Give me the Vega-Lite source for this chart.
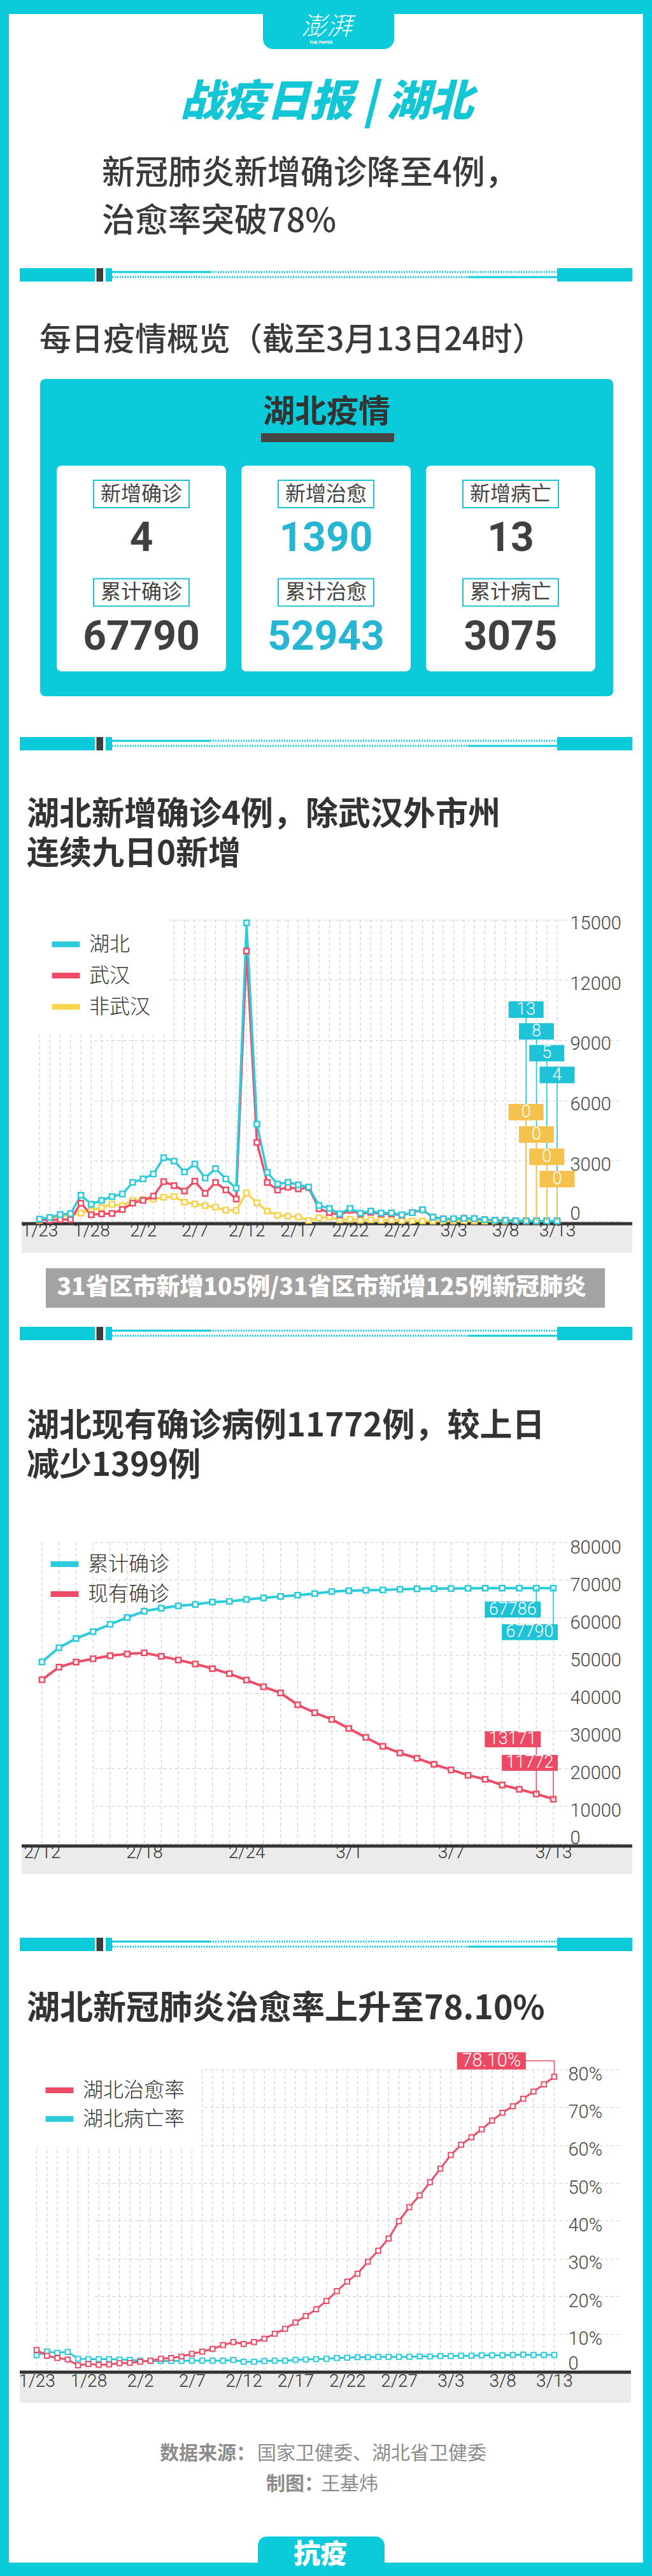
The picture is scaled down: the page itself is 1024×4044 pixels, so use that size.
{
"$schema":"https://vega.github.io/schema/vega-lite/v6.json",
"background":"#0BCAD9",
"padding":{"left":14,"right":14,"top":22,"bottom":0},
"spacing":0,
"bounds":"flush",
"resolve":{"scale":{"color":"independent","x":"independent","y":"independent"},"legend":{"color":"independent"},"axis":{"x":"independent","y":"independent"}},
"config":{
 "view":{"stroke":null,"fill":"white"},
 "font":"Noto Sans CJK SC",
 "axis":{"domain":false,"ticks":false,"grid":true,"gridDash":[5,4],"gridColor":"#cfcfcf","gridWidth":1.2,"labelFont":"Roboto","labelFontWeight":300,"labelColor":"#333333","labelFontSize":28,"labelFlush":false},
 "legend":{"orient":"none","direction":"vertical","symbolType":"stroke","symbolSize":1936,"symbolStrokeWidth":9,"labelFont":"Noto Sans CJK SC","labelFontSize":32,"labelFontWeight":300,"labelColor":"#333333","labelOffset":10,"padding":25,"fillColor":"white","labelLimit":400}
},
"datasets":{
 "stats":[
  {"col":"确诊","row":"新增","label":"新增确诊","value":4},
  {"col":"治愈","row":"新增","label":"新增治愈","value":1390},
  {"col":"病亡","row":"新增","label":"新增病亡","value":13},
  {"col":"确诊","row":"累计","label":"累计确诊","value":67790},
  {"col":"治愈","row":"累计","label":"累计治愈","value":52943},
  {"col":"病亡","row":"累计","label":"累计病亡","value":3075}
 ],
 "c1":[
  {"date":"1/23","湖北":105,"武汉":70,"非武汉":35},
  {"date":"1/24","湖北":180,"武汉":46,"非武汉":134},
  {"date":"1/25","湖北":323,"武汉":80,"非武汉":243},
  {"date":"1/26","湖北":371,"武汉":80,"非武汉":291},
  {"date":"1/27","湖北":1291,"武汉":892,"非武汉":399},
  {"date":"1/28","湖北":840,"武汉":315,"非武汉":525},
  {"date":"1/29","湖北":1032,"武汉":356,"非武汉":676},
  {"date":"1/30","湖北":1220,"武汉":378,"非武汉":842},
  {"date":"1/31","湖北":1347,"武汉":576,"非武汉":771},
  {"date":"2/1","湖北":1921,"武汉":894,"非武汉":1027},
  {"date":"2/2","湖北":2103,"武汉":1033,"非武汉":1070},
  {"date":"2/3","湖北":2345,"武汉":1242,"非武汉":1103},
  {"date":"2/4","湖北":3156,"武汉":1967,"非武汉":1189},
  {"date":"2/5","湖北":2987,"武汉":1766,"非武汉":1221},
  {"date":"2/6","湖北":2447,"武汉":1501,"非武汉":946},
  {"date":"2/7","湖北":2841,"武汉":1985,"非武汉":856},
  {"date":"2/8","湖北":2147,"武汉":1379,"非武汉":768},
  {"date":"2/9","湖北":2618,"武汉":1921,"非武汉":697},
  {"date":"2/10","湖北":2097,"武汉":1552,"非武汉":545},
  {"date":"2/11","湖北":1638,"武汉":1104,"非武汉":534},
  {"date":"2/12","湖北":14840,"武汉":13436,"非武汉":1404},
  {"date":"2/13","湖北":4823,"武汉":3910,"非武汉":913},
  {"date":"2/14","湖北":2420,"武汉":1923,"非武汉":497},
  {"date":"2/15","湖北":1843,"武汉":1548,"非武汉":295},
  {"date":"2/16","湖北":1933,"武汉":1690,"非武汉":243},
  {"date":"2/17","湖北":1807,"武汉":1600,"非武汉":207},
  {"date":"2/18","湖北":1693,"武汉":1660,"非武汉":33},
  {"date":"2/19","湖北":775,"武汉":615,"非武汉":160},
  {"date":"2/20","湖北":631,"武汉":431,"非武汉":200},
  {"date":"2/21","湖北":366,"武汉":306,"非武汉":60},
  {"date":"2/22","湖北":630,"武汉":541,"非武汉":89},
  {"date":"2/23","湖北":398,"武汉":348,"非武汉":50},
  {"date":"2/24","湖北":499,"武汉":439,"非武汉":60},
  {"date":"2/25","湖北":401,"武汉":359,"非武汉":42},
  {"date":"2/26","湖北":409,"武汉":357,"非武汉":52},
  {"date":"2/27","湖北":318,"武汉":297,"非武汉":21},
  {"date":"2/28","湖北":423,"武汉":418,"非武汉":5},
  {"date":"2/29","湖北":570,"武汉":565,"非武汉":5},
  {"date":"3/1","湖北":196,"武汉":193,"非武汉":3},
  {"date":"3/2","湖北":114,"武汉":111,"非武汉":3},
  {"date":"3/3","湖北":115,"武汉":114,"非武汉":1},
  {"date":"3/4","湖北":134,"武汉":131,"非武汉":3},
  {"date":"3/5","湖北":126,"武汉":126,"非武汉":0},
  {"date":"3/6","湖北":74,"武汉":74,"非武汉":0},
  {"date":"3/7","湖北":41,"武汉":41,"非武汉":0},
  {"date":"3/8","湖北":36,"武汉":36,"非武汉":0},
  {"date":"3/9","湖北":17,"武汉":17,"非武汉":0},
  {"date":"3/10","湖北":13,"武汉":13,"非武汉":0},
  {"date":"3/11","湖北":8,"武汉":8,"非武汉":0},
  {"date":"3/12","湖北":5,"武汉":5,"非武汉":0},
  {"date":"3/13","湖北":4,"武汉":4,"非武汉":0}
 ],
 "c2":[
  {"date":"2/12","累计确诊":48206,"现有确诊":43455},
  {"date":"2/13","累计确诊":51986,"现有确诊":46806},
  {"date":"2/14","累计确诊":54406,"现有确诊":48175},
  {"date":"2/15","累计确诊":56249,"现有确诊":49030},
  {"date":"2/16","累计确诊":58182,"现有确诊":49847},
  {"date":"2/17","累计确诊":59989,"现有确诊":50338},
  {"date":"2/18","累计确诊":61682,"现有确诊":50633},
  {"date":"2/19","累计确诊":62457,"现有确诊":49665},
  {"date":"2/20","累计确诊":63088,"现有确诊":48730},
  {"date":"2/21","累计确诊":63454,"现有确诊":47647},
  {"date":"2/22","累计确诊":64084,"现有确诊":46439},
  {"date":"2/23","累计确诊":64287,"现有确诊":45054},
  {"date":"2/24","累计确诊":64786,"现有确诊":43369},
  {"date":"2/25","累计确诊":65187,"现有确诊":41612},
  {"date":"2/26","累计确诊":65596,"现有确诊":39948},
  {"date":"2/27","累计确诊":65914,"现有确诊":36829},
  {"date":"2/28","累计确诊":66337,"现有确诊":34715},
  {"date":"2/29","累计确诊":66907,"现有确诊":32959},
  {"date":"3/1","累计确诊":67103,"现有确诊":30543},
  {"date":"3/2","累计确诊":67217,"现有确诊":28167},
  {"date":"3/3","累计确诊":67332,"现有确诊":25797},
  {"date":"3/4","累计确诊":67466,"现有确诊":24015},
  {"date":"3/5","累计确诊":67592,"现有确诊":22619},
  {"date":"3/6","累计确诊":67666,"现有确诊":21001},
  {"date":"3/7","累计确诊":67707,"现有确诊":19541},
  {"date":"3/8","累计确诊":67743,"现有确诊":18115},
  {"date":"3/9","累计确诊":67760,"现有确诊":17040},
  {"date":"3/10","累计确诊":67773,"现有确诊":15520},
  {"date":"3/11","累计确诊":67781,"现有确诊":14380},
  {"date":"3/12","累计确诊":67786,"现有确诊":13171},
  {"date":"3/13","累计确诊":67790,"现有确诊":11772}
 ],
 "c3":[
  {"date":"1/23","湖北治愈率":5.8,"湖北病亡率":4.4},
  {"date":"1/24","湖北治愈率":4.3,"湖北病亡率":5.4},
  {"date":"1/25","湖北治愈率":3.7,"湖北病亡率":5.1},
  {"date":"1/26","湖北治愈率":3.3,"湖北病亡率":5.3},
  {"date":"1/27","湖北治愈率":1.75,"湖北病亡率":3.5},
  {"date":"1/28","湖北治愈率":2.1,"湖北病亡率":3.4},
  {"date":"1/29","湖北治愈率":1.9,"湖北病亡率":3.4},
  {"date":"1/30","湖北治愈率":2.0,"湖北病亡率":3.4},
  {"date":"1/31","湖北治愈率":2.3,"湖北病亡率":3.3},
  {"date":"2/1","湖北治愈率":2.4,"湖北病亡率":3.2},
  {"date":"2/2","湖北治愈率":2.7,"湖北病亡率":3.0},
  {"date":"2/3","湖北治愈率":3.0,"湖北病亡率":2.9},
  {"date":"2/4","湖北治愈率":3.5,"湖北病亡率":2.9},
  {"date":"2/5","湖北治愈率":3.7,"湖北病亡率":2.9},
  {"date":"2/6","湖北治愈率":4.1,"湖北病亡率":2.9},
  {"date":"2/7","湖北治愈率":4.8,"湖北病亡率":3.0},
  {"date":"2/8","湖北治愈率":5.4,"湖北病亡率":3.0},
  {"date":"2/9","湖北治愈率":6.1,"湖北病亡率":3.0},
  {"date":"2/10","湖北治愈率":7.1,"湖北病亡率":3.0},
  {"date":"2/11","湖北治愈率":7.9,"湖北病亡率":3.2},
  {"date":"2/12","湖北治愈率":7.4,"湖北病亡率":2.7},
  {"date":"2/13","湖北治愈率":7.9,"湖北病亡率":2.7},
  {"date":"2/14","湖北治愈率":8.8,"湖北病亡率":2.9},
  {"date":"2/15","湖北治愈率":10.1,"湖北病亡率":3.0},
  {"date":"2/16","湖北治愈率":11.4,"湖北病亡率":3.0},
  {"date":"2/17","湖北治愈率":13.1,"湖北病亡率":3.2},
  {"date":"2/18","湖北治愈率":14.8,"湖北病亡率":3.3},
  {"date":"2/19","湖北治愈率":16.6,"湖北病亡率":3.4},
  {"date":"2/20","湖北治愈率":18.8,"湖北病亡率":3.5},
  {"date":"2/21","湖北治愈率":21.4,"湖北病亡率":3.7},
  {"date":"2/22","湖北治愈率":23.9,"湖北病亡率":3.8},
  {"date":"2/23","湖北治愈率":26.0,"湖北病亡率":3.9},
  {"date":"2/24","湖北治愈率":29.2,"湖北病亡率":3.9},
  {"date":"2/25","湖北治愈率":32.1,"湖北病亡率":4.0},
  {"date":"2/26","湖北治愈率":35.3,"湖北病亡率":4.0},
  {"date":"2/27","湖北治愈率":39.9,"湖北病亡率":4.0},
  {"date":"2/28","湖北治愈率":43.6,"湖北病亡率":4.0},
  {"date":"2/29","湖北治愈率":46.7,"湖北病亡率":4.1},
  {"date":"3/1","湖北治愈率":50.2,"湖北病亡率":4.1},
  {"date":"3/2","湖北治愈率":53.8,"湖北病亡率":4.2},
  {"date":"3/3","湖北治愈率":57.4,"湖北病亡率":4.2},
  {"date":"3/4","湖北治愈率":60.1,"湖北病亡率":4.3},
  {"date":"3/5","湖北治愈率":62.1,"湖北病亡率":4.3},
  {"date":"3/6","湖北治愈率":64.2,"湖北病亡率":4.4},
  {"date":"3/7","湖北治愈率":66.5,"湖北病亡率":4.4},
  {"date":"3/8","湖北治愈率":68.6,"湖北病亡率":4.4},
  {"date":"3/9","湖北治愈率":70.3,"湖北病亡率":4.5},
  {"date":"3/10","湖北治愈率":72.3,"湖北病亡率":4.6},
  {"date":"3/11","湖北治愈率":74.2,"湖北病亡率":4.5},
  {"date":"3/12","湖北治愈率":76.1,"湖北病亡率":4.5},
  {"date":"3/13","湖北治愈率":78.1,"湖北病亡率":4.5}
 ]
},
"vconcat":[
 {"width":996,"height":399,"data":{"values":[{}]},"layer":[
  {"mark":{"type":"rect","color":"#0BCAD9","cornerRadiusBottomLeft":16,"cornerRadiusBottomRight":16},"encoding":{"x":{"value":399},"x2":{"value":605},"y":{"value":0},"y2":{"value":55}}},
  {"mark":{"type":"text","color":"white","fontSize":40,"fontWeight":300,"fontStyle":"italic","align":"center","baseline":"middle"},"encoding":{"x":{"value":499},"y":{"value":21},"text":{"value":"澎湃"}}},
  {"mark":{"type":"text","color":"white","fontSize":7,"fontWeight":700,"font":"Roboto","align":"center","baseline":"middle"},"encoding":{"x":{"value":490},"y":{"value":45},"text":{"value":"THE PAPER"}}},
  {"mark":{"type":"text","color":"#12C6D6","fontSize":68,"fontWeight":900,"fontStyle":"italic","align":"center","baseline":"middle"},"encoding":{"x":{"value":499},"y":{"value":140},"text":{"value":"战疫日报   |   湖北"}}},
  {"mark":{"type":"text","color":"#3a3a3a","fontSize":52,"fontWeight":500,"align":"left","baseline":"middle"},"encoding":{"x":{"value":146},"y":{"value":251},"text":{"value":"新冠肺炎新增确诊降至4例，"}}},
  {"mark":{"type":"text","color":"#3a3a3a","fontSize":52,"fontWeight":500,"align":"left","baseline":"middle"},"encoding":{"x":{"value":146},"y":{"value":326},"text":{"value":"治愈率突破78%"}}}
 ]},
 {"width":996,"height":21,"data":{"values":[{}]},"layer":[
  {"mark":{"type":"rect","color":"#0BCAD9"},"encoding":{"x":{"value":17},"x2":{"value":135},"y":{"value":0},"y2":{"value":21}}},
  {"mark":{"type":"rect","color":"#3d3d3d"},"encoding":{"x":{"value":137.5},"x2":{"value":148},"y":{"value":0},"y2":{"value":21}}},
  {"mark":{"type":"rect","color":"#0BCAD9"},"encoding":{"x":{"value":152},"x2":{"value":162},"y":{"value":0},"y2":{"value":21}}},
  {"mark":{"type":"rule","color":"#0BCAD9","strokeWidth":3},"encoding":{"x":{"value":162},"x2":{"value":316},"y":{"value":6}}},
  {"mark":{"type":"rule","color":"#0BCAD9","strokeWidth":3,"strokeDash":[2,2]},"encoding":{"x":{"value":316},"x2":{"value":861},"y":{"value":6}}},
  {"mark":{"type":"rule","color":"#0BCAD9","strokeWidth":3,"strokeDash":[2,2]},"encoding":{"x":{"value":162},"x2":{"value":721},"y":{"value":14}}},
  {"mark":{"type":"rule","color":"#0BCAD9","strokeWidth":3},"encoding":{"x":{"value":721},"x2":{"value":861},"y":{"value":14}}},
  {"mark":{"type":"rect","color":"#0BCAD9"},"encoding":{"x":{"value":861},"x2":{"value":979},"y":{"value":0},"y2":{"value":21}}}
 ]},
 {"width":996,"height":715,"layer":[
  {"data":{"values":[{}]},"mark":{"type":"text","color":"#3a3a3a","fontSize":50,"fontWeight":500,"align":"left","baseline":"middle"},"encoding":{"x":{"value":48},"y":{"value":93},"text":{"value":"每日疫情概览（截至3月13日24时）"}}},
  {"data":{"values":[{}]},"mark":{"type":"rect","color":"#0BCAD9","cornerRadius":8},"encoding":{"x":{"value":49},"x2":{"value":949},"y":{"value":153},"y2":{"value":651}}},
  {"data":{"values":[{}]},"mark":{"type":"text","color":"#333333","fontSize":50,"fontWeight":700,"align":"center","baseline":"middle"},"encoding":{"x":{"value":499},"y":{"value":205.5},"text":{"value":"湖北疫情"}}},
  {"data":{"values":[{}]},"mark":{"type":"rect","color":"#454545"},"encoding":{"x":{"value":396},"x2":{"value":605},"y":{"value":238},"y2":{"value":252}}},
  {"data":{"name":"stats"},"transform":[{"filter":"datum.row === '新增'"}],"mark":{"type":"rect","color":"white","cornerRadius":8},"encoding":{"x":{"field":"col","type":"nominal","scale":{"type":"band","domain":["确诊","治愈","病亡"],"range":[75,921],"paddingInner":0.0828,"paddingOuter":0},"axis":null},"y":{"value":289},"y2":{"value":612}}},
  {"data":{"name":"stats"},"mark":{"type":"point","shape":"M-1,-0.287L1,-0.287L1,0.287L-1,0.287Z","size":22500,"filled":true,"fill":"white","stroke":"#1EC3D7","strokeWidth":2,"opacity":1},"encoding":{"x":{"field":"col","type":"nominal"},"y":{"field":"row","type":"ordinal","scale":{"type":"point","domain":["新增","累计"],"range":[333.5,488],"padding":0},"axis":null}}},
  {"data":{"name":"stats"},"mark":{"type":"text","fontSize":32,"fontWeight":400,"color":"#444444","baseline":"middle"},"encoding":{"x":{"field":"col","type":"nominal"},"y":{"field":"row","type":"ordinal"},"text":{"field":"label","type":"nominal"}}},
  {"data":{"name":"stats"},"mark":{"type":"text","fontSize":64,"font":"Roboto","fontWeight":700,"baseline":"middle","yOffset":70.5},"encoding":{"x":{"field":"col","type":"nominal"},"y":{"field":"row","type":"ordinal"},"text":{"field":"value","type":"quantitative","format":"d"},"color":{"condition":{"test":"datum.col === '治愈'","value":"#26B6D3"},"value":"#404040"}}}
 ]},
 {"width":996,"height":21,"data":{"values":[{}]},"layer":[
  {"mark":{"type":"rect","color":"#0BCAD9"},"encoding":{"x":{"value":17},"x2":{"value":135},"y":{"value":0},"y2":{"value":21}}},
  {"mark":{"type":"rect","color":"#3d3d3d"},"encoding":{"x":{"value":137.5},"x2":{"value":148},"y":{"value":0},"y2":{"value":21}}},
  {"mark":{"type":"rect","color":"#0BCAD9"},"encoding":{"x":{"value":152},"x2":{"value":162},"y":{"value":0},"y2":{"value":21}}},
  {"mark":{"type":"rule","color":"#0BCAD9","strokeWidth":3},"encoding":{"x":{"value":162},"x2":{"value":316},"y":{"value":6}}},
  {"mark":{"type":"rule","color":"#0BCAD9","strokeWidth":3,"strokeDash":[2,2]},"encoding":{"x":{"value":316},"x2":{"value":861},"y":{"value":6}}},
  {"mark":{"type":"rule","color":"#0BCAD9","strokeWidth":3,"strokeDash":[2,2]},"encoding":{"x":{"value":162},"x2":{"value":721},"y":{"value":14}}},
  {"mark":{"type":"rule","color":"#0BCAD9","strokeWidth":3},"encoding":{"x":{"value":721},"x2":{"value":861},"y":{"value":14}}},
  {"mark":{"type":"rect","color":"#0BCAD9"},"encoding":{"x":{"value":861},"x2":{"value":979},"y":{"value":0},"y2":{"value":21}}}
 ]},
 {"width":996,"height":797,"layer":[
  {"data":{"values":[{}]},"mark":{"type":"text","color":"#333333","fontSize":51,"fontWeight":700,"align":"left","baseline":"middle"},"encoding":{"x":{"value":28},"y":{"value":102},"text":{"value":"湖北新增确诊4例，除武汉外市州"}}},
  {"data":{"values":[{}]},"mark":{"type":"text","color":"#333333","fontSize":51,"fontWeight":700,"align":"left","baseline":"middle"},"encoding":{"x":{"value":28},"y":{"value":164},"text":{"value":"连续九日0新增"}}},
  {"data":{"values":[{}]},"mark":{"type":"rect","color":"#EBEBEB"},"encoding":{"x":{"value":20},"x2":{"value":979},"y":{"value":744},"y2":{"value":789}}},
  {"data":{"values":[{}]},"mark":{"type":"rule","color":"#333333","strokeWidth":5},"encoding":{"x":{"value":20},"x2":{"value":979},"y":{"value":743}}},
  {"data":{"name":"c1"},"mark":{"type":"rule","color":"#d0d0d0","strokeWidth":1.2,"strokeDash":[5,4]},"encoding":{"x":{"field":"date","type":"ordinal","title":null},"y":{"datum":15000},"y2":{"datum":0}}},
  {"data":{"name":"c1"},"transform":[{"fold":["非武汉","武汉","湖北"],"as":["key","value"]}],"layer":[
   {"mark":{"type":"line","strokeWidth":3.5,"strokeJoin":"round"},"encoding":{
    "x":{"field":"date","type":"ordinal","title":null,"scale":{"type":"point","domain":["1/23","1/24","1/25","1/26","1/27","1/28","1/29","1/30","1/31","2/1","2/2","2/3","2/4","2/5","2/6","2/7","2/8","2/9","2/10","2/11","2/12","2/13","2/14","2/15","2/16","2/17","2/18","2/19","2/20","2/21","2/22","2/23","2/24","2/25","2/26","2/27","2/28","2/29","3/1","3/2","3/3","3/4","3/5","3/6","3/7","3/8","3/9","3/10","3/11","3/12","3/13"],"range":[38,864],"padding":0.4,"align":0.77},
     "axis":{"orient":"bottom","offset":-54,"grid":false,"zindex":1,"labelPadding":11,"labelAngle":0,"labelAlign":"center","labelFlush":false,"labelOverlap":false,"title":null,"labelExpr":"indexof(['1/23','1/28','2/2','2/7','2/12','2/17','2/22','2/27','3/3','3/8','3/13'], datum.value) >= 0 ? datum.value : ''"}},
    "y":{"field":"value","type":"quantitative","title":null,"scale":{"domain":[0,15000],"range":[739,265.6],"nice":false},
     "axis":{"orient":"right","offset":-115,"labelPadding":0,"labelFontSize":29,"labelColor":"#444444","title":null,"format":"d","values":[0,3000,6000,9000,12000,15000],"labelBaseline":"middle","labelOffset":{"condition":{"test":"datum.value === 0","value":-12},"value":6}}},
    "color":{"field":"key","type":"nominal","title":null,"scale":{"domain":["湖北","武汉","非武汉"],"range":["#2DCBDB","#EE4B66","#F8D34F"]},"legend":{"legendX":38,"legendY":253,"rowPadding":4,"title":null}}}},
   {"mark":{"type":"point","shape":"square","size":64,"filled":false,"fill":"white","strokeWidth":2.5,"opacity":1},"encoding":{"x":{"field":"date","type":"ordinal","title":null},"y":{"field":"value","type":"quantitative","title":null},"color":{"field":"key","type":"nominal","title":null}}}
  ]},
  {"data":{"name":"c1"},"transform":[{"filter":"indexof(['3/10','3/11','3/12','3/13'], datum.date) >= 0"},{"calculate":"10520 - 1083*indexof(['3/10','3/11','3/12','3/13'], datum.date)","as":"ly"}],"mark":{"type":"rule","color":"#1EC3D7","strokeWidth":1.5},"encoding":{"x":{"field":"date","type":"ordinal","title":null},"y":{"field":"ly","type":"quantitative","title":null},"y2":{"field":"湖北"}}},
  {"data":{"name":"c1"},"transform":[{"filter":"indexof(['3/10','3/11','3/12','3/13'], datum.date) >= 0"},{"calculate":"5420 - 1110*indexof(['3/10','3/11','3/12','3/13'], datum.date)","as":"ly"}],"layer":[
   {"mark":{"type":"rule","color":"#F6C24E","strokeWidth":1.5},"encoding":{"x":{"field":"date","type":"ordinal","title":null},"y":{"field":"ly","type":"quantitative","title":null},"y2":{"field":"非武汉"}}},
   {"mark":{"type":"point","shape":"M-1,-0.47L1,-0.47L1,0.47L-1,0.47Z","size":3025,"filled":true,"color":"#F6C24E","opacity":1},"encoding":{"x":{"field":"date","type":"ordinal","title":null},"y":{"field":"ly","type":"quantitative","title":null}}},
   {"mark":{"type":"text","color":"white","fontSize":27,"font":"Roboto","fontWeight":300,"baseline":"middle"},"encoding":{"x":{"field":"date","type":"ordinal","title":null},"y":{"field":"ly","type":"quantitative","title":null},"text":{"field":"非武汉","type":"quantitative","format":"d"}}}
  ]},
  {"data":{"name":"c1"},"transform":[{"filter":"indexof(['3/10','3/11','3/12','3/13'], datum.date) >= 0"},{"calculate":"10520 - 1083*indexof(['3/10','3/11','3/12','3/13'], datum.date)","as":"ly"}],"layer":[
   {"mark":{"type":"point","shape":"M-1,-0.47L1,-0.47L1,0.47L-1,0.47Z","size":3025,"filled":true,"color":"#1EC3D7","opacity":1},"encoding":{"x":{"field":"date","type":"ordinal","title":null},"y":{"field":"ly","type":"quantitative","title":null}}},
   {"mark":{"type":"text","color":"white","fontSize":27,"font":"Roboto","fontWeight":300,"baseline":"middle"},"encoding":{"x":{"field":"date","type":"ordinal","title":null},"y":{"field":"ly","type":"quantitative","title":null},"text":{"field":"湖北","type":"quantitative","format":"d"}}}
  ]}
 ]},
 {"width":996,"height":108,"data":{"values":[{}]},"layer":[
  {"mark":{"type":"rect","color":"#A3A3A3"},"encoding":{"x":{"value":58},"x2":{"value":936},"y":{"value":16},"y2":{"value":78}}},
  {"mark":{"type":"text","color":"white","fontSize":37,"fontWeight":900,"align":"left","baseline":"middle"},"encoding":{"x":{"value":75.5},"y":{"value":47},"text":{"value":"31省区市新增105例/31省区市新增125例新冠肺炎"}}}
 ]},
 {"width":996,"height":21,"data":{"values":[{}]},"layer":[
  {"mark":{"type":"rect","color":"#0BCAD9"},"encoding":{"x":{"value":17},"x2":{"value":135},"y":{"value":0},"y2":{"value":21}}},
  {"mark":{"type":"rect","color":"#3d3d3d"},"encoding":{"x":{"value":137.5},"x2":{"value":148},"y":{"value":0},"y2":{"value":21}}},
  {"mark":{"type":"rect","color":"#0BCAD9"},"encoding":{"x":{"value":152},"x2":{"value":162},"y":{"value":0},"y2":{"value":21}}},
  {"mark":{"type":"rule","color":"#0BCAD9","strokeWidth":3},"encoding":{"x":{"value":162},"x2":{"value":316},"y":{"value":6}}},
  {"mark":{"type":"rule","color":"#0BCAD9","strokeWidth":3,"strokeDash":[2,2]},"encoding":{"x":{"value":316},"x2":{"value":861},"y":{"value":6}}},
  {"mark":{"type":"rule","color":"#0BCAD9","strokeWidth":3,"strokeDash":[2,2]},"encoding":{"x":{"value":162},"x2":{"value":721},"y":{"value":14}}},
  {"mark":{"type":"rule","color":"#0BCAD9","strokeWidth":3},"encoding":{"x":{"value":721},"x2":{"value":861},"y":{"value":14}}},
  {"mark":{"type":"rect","color":"#0BCAD9"},"encoding":{"x":{"value":861},"x2":{"value":979},"y":{"value":0},"y2":{"value":21}}}
 ]},
 {"width":996,"height":938,"layer":[
  {"data":{"values":[{}]},"mark":{"type":"text","color":"#333333","fontSize":51,"fontWeight":700,"align":"left","baseline":"middle"},"encoding":{"x":{"value":28},"y":{"value":136},"text":{"value":"湖北现有确诊病例11772例，较上日"}}},
  {"data":{"values":[{}]},"mark":{"type":"text","color":"#333333","fontSize":51,"fontWeight":700,"align":"left","baseline":"middle"},"encoding":{"x":{"value":28},"y":{"value":198},"text":{"value":"减少1399例"}}},
  {"data":{"values":[{}]},"mark":{"type":"rect","color":"#EBEBEB"},"encoding":{"x":{"value":20},"x2":{"value":979},"y":{"value":795},"y2":{"value":838}}},
  {"data":{"values":[{}]},"mark":{"type":"rule","color":"#333333","strokeWidth":5},"encoding":{"x":{"value":20},"x2":{"value":979},"y":{"value":794}}},
  {"data":{"name":"c2"},"mark":{"type":"rule","color":"#d0d0d0","strokeWidth":1.2,"strokeDash":[5,4]},"encoding":{"x":{"field":"date","type":"ordinal","title":null},"y":{"datum":80000},"y2":{"datum":0}}},
  {"data":{"name":"c2"},"transform":[{"fold":["现有确诊","累计确诊"],"as":["key","value"]}],"layer":[
   {"mark":{"type":"line","strokeWidth":4,"strokeJoin":"round"},"encoding":{
    "x":{"field":"date","type":"ordinal","title":null,"scale":{"type":"point","domain":["2/12","2/13","2/14","2/15","2/16","2/17","2/18","2/19","2/20","2/21","2/22","2/23","2/24","2/25","2/26","2/27","2/28","2/29","3/1","3/2","3/3","3/4","3/5","3/6","3/7","3/8","3/9","3/10","3/11","3/12","3/13"],"range":[38,861],"padding":0.37,"align":0.7},
     "axis":{"orient":"bottom","offset":-144,"grid":false,"zindex":1,"labelPadding":10,"labelAngle":0,"labelAlign":"center","labelFlush":false,"labelOverlap":false,"title":null,"labelExpr":"indexof(['2/12','2/18','2/24','3/1','3/7','3/13'], datum.value) >= 0 ? datum.value : ''"}},
    "y":{"field":"value","type":"quantitative","title":null,"scale":{"domain":[0,80000],"range":[790,317],"nice":false},
     "axis":{"orient":"right","offset":-115,"labelPadding":0,"labelFontSize":29,"labelColor":"#444444","title":null,"format":"d","values":[0,10000,20000,30000,40000,50000,60000,70000,80000],"labelBaseline":"middle","labelOffset":{"condition":{"test":"datum.value === 0","value":-9},"value":8}}},
    "color":{"field":"key","type":"nominal","title":null,"scale":{"domain":["累计确诊","现有确诊"],"range":["#2DCBDB","#EE4B66"]},"legend":{"legendX":55,"legendY":319,"rowPadding":2,"padding":6,"fillColor":"transparent","title":null}}}},
   {"mark":{"type":"point","shape":"square","size":64,"filled":false,"fill":"white","strokeWidth":2.5,"opacity":1},"encoding":{"x":{"field":"date","type":"ordinal","title":null},"y":{"field":"value","type":"quantitative","title":null},"color":{"field":"key","type":"nominal","title":null}}}
  ]},
  {"data":{"name":"c2"},"transform":[{"filter":"indexof(['3/12','3/13'], datum.date) >= 0"},{"calculate":"62100 - 6010*indexof(['3/12','3/13'], datum.date)","as":"ly"}],"layer":[
   {"mark":{"type":"rule","color":"#1EC3D7","strokeWidth":1.5},"encoding":{"x":{"field":"date","type":"ordinal","title":null},"y":{"field":"ly","type":"quantitative","title":null},"y2":{"field":"累计确诊"}}},
   {"mark":{"type":"point","shape":"M-1.84,-0.284L0.16,-0.284L0.16,0.284L-1.84,0.284Z","size":7744,"filled":true,"color":"#1EC3D7","opacity":1},"encoding":{"x":{"field":"date","type":"ordinal","title":null},"y":{"field":"ly","type":"quantitative","title":null}}},
   {"mark":{"type":"text","color":"white","fontSize":27,"font":"Roboto","fontWeight":300,"baseline":"middle","dx":-37},"encoding":{"x":{"field":"date","type":"ordinal","title":null},"y":{"field":"ly","type":"quantitative","title":null},"text":{"field":"累计确诊","type":"quantitative","format":"d"}}}
  ]},
  {"data":{"name":"c2"},"transform":[{"filter":"indexof(['3/12','3/13'], datum.date) >= 0"},{"calculate":"27660 - 6260*indexof(['3/12','3/13'], datum.date)","as":"ly"}],"layer":[
   {"mark":{"type":"rule","color":"#EC4A64","strokeWidth":1.5},"encoding":{"x":{"field":"date","type":"ordinal","title":null},"y":{"field":"ly","type":"quantitative","title":null},"y2":{"field":"现有确诊"}}},
   {"mark":{"type":"point","shape":"M-1.84,-0.284L0.16,-0.284L0.16,0.284L-1.84,0.284Z","size":7744,"filled":true,"color":"#EC4A64","opacity":1},"encoding":{"x":{"field":"date","type":"ordinal","title":null},"y":{"field":"ly","type":"quantitative","title":null}}},
   {"mark":{"type":"text","color":"white","fontSize":27,"font":"Roboto","fontWeight":300,"baseline":"middle","dx":-37},"encoding":{"x":{"field":"date","type":"ordinal","title":null},"y":{"field":"ly","type":"quantitative","title":null},"text":{"field":"现有确诊","type":"quantitative","format":"d"}}}
  ]}
 ]},
 {"width":996,"height":21,"data":{"values":[{}]},"layer":[
  {"mark":{"type":"rect","color":"#0BCAD9"},"encoding":{"x":{"value":17},"x2":{"value":135},"y":{"value":0},"y2":{"value":21}}},
  {"mark":{"type":"rect","color":"#3d3d3d"},"encoding":{"x":{"value":137.5},"x2":{"value":148},"y":{"value":0},"y2":{"value":21}}},
  {"mark":{"type":"rect","color":"#0BCAD9"},"encoding":{"x":{"value":152},"x2":{"value":162},"y":{"value":0},"y2":{"value":21}}},
  {"mark":{"type":"rule","color":"#0BCAD9","strokeWidth":3},"encoding":{"x":{"value":162},"x2":{"value":316},"y":{"value":6}}},
  {"mark":{"type":"rule","color":"#0BCAD9","strokeWidth":3,"strokeDash":[2,2]},"encoding":{"x":{"value":316},"x2":{"value":861},"y":{"value":6}}},
  {"mark":{"type":"rule","color":"#0BCAD9","strokeWidth":3,"strokeDash":[2,2]},"encoding":{"x":{"value":162},"x2":{"value":721},"y":{"value":14}}},
  {"mark":{"type":"rule","color":"#0BCAD9","strokeWidth":3},"encoding":{"x":{"value":721},"x2":{"value":861},"y":{"value":14}}},
  {"mark":{"type":"rect","color":"#0BCAD9"},"encoding":{"x":{"value":861},"x2":{"value":979},"y":{"value":0},"y2":{"value":21}}}
 ]},
 {"width":996,"height":727,"layer":[
  {"data":{"values":[{}]},"mark":{"type":"text","color":"#333333","fontSize":52,"fontWeight":700,"align":"left","baseline":"middle"},"encoding":{"x":{"value":28},"y":{"value":91},"text":{"value":"湖北新冠肺炎治愈率上升至78.10%"}}},
  {"data":{"values":[{}]},"mark":{"type":"rect","color":"#EBEBEB"},"encoding":{"x":{"value":17},"x2":{"value":977},"y":{"value":662},"y2":{"value":709}}},
  {"data":{"values":[{}]},"mark":{"type":"rule","color":"#333333","strokeWidth":5},"encoding":{"x":{"value":17},"x2":{"value":977},"y":{"value":661}}},
  {"data":{"name":"c3"},"mark":{"type":"rule","color":"#d0d0d0","strokeWidth":1.2,"strokeDash":[5,4]},"encoding":{"x":{"field":"date","type":"ordinal","title":null},"y":{"datum":80},"y2":{"datum":0}}},
  {"data":{"name":"c3"},"transform":[{"fold":["湖北病亡率","湖北治愈率"],"as":["key","value"]}],"layer":[
   {"mark":{"type":"line","strokeWidth":3,"strokeJoin":"round"},"encoding":{
    "x":{"field":"date","type":"ordinal","title":null,"scale":{"type":"point","domain":["1/23","1/24","1/25","1/26","1/27","1/28","1/29","1/30","1/31","2/1","2/2","2/3","2/4","2/5","2/6","2/7","2/8","2/9","2/10","2/11","2/12","2/13","2/14","2/15","2/16","2/17","2/18","2/19","2/20","2/21","2/22","2/23","2/24","2/25","2/26","2/27","2/28","2/29","3/1","3/2","3/3","3/4","3/5","3/6","3/7","3/8","3/9","3/10","3/11","3/12","3/13"],"range":[37,861],"padding":0.34,"align":0.59},
     "axis":{"orient":"bottom","offset":-66,"grid":false,"zindex":1,"labelPadding":14,"labelAngle":0,"labelAlign":"center","labelFlush":false,"labelOverlap":false,"title":null,"labelExpr":"indexof(['1/23','1/28','2/2','2/7','2/12','2/17','2/22','2/27','3/3','3/8','3/13'], datum.value) >= 0 ? datum.value : ''"}},
    "y":{"field":"value","type":"quantitative","title":null,"scale":{"domain":[0,80],"range":[660.7,186],"nice":false},
     "axis":{"orient":"right","offset":-118,"labelPadding":0,"labelFontSize":29,"labelColor":"#444444","title":null,"values":[0,10,20,30,40,50,60,70,80],"labelExpr":"datum.value === 0 ? '0' : datum.value + '%'","labelBaseline":"middle","labelOffset":{"condition":{"test":"datum.value === 0","value":-13},"value":7}}},
    "color":{"field":"key","type":"nominal","title":null,"scale":{"domain":["湖北治愈率","湖北病亡率"],"range":["#EE4B66","#2DCBDB"]},"legend":{"legendX":28,"legendY":167,"rowPadding":0,"title":null}}}},
   {"mark":{"type":"point","shape":"square","size":56,"filled":false,"fill":"white","strokeWidth":2,"opacity":1},"encoding":{"x":{"field":"date","type":"ordinal","title":null},"y":{"field":"value","type":"quantitative","title":null},"color":{"field":"key","type":"nominal","title":null}}}
  ]},
  {"data":{"name":"c3"},"transform":[{"filter":"datum.date === '3/13'"},{"calculate":"format(datum['湖北治愈率'], '.2f') + '%'","as":"lbl"}],"layer":[
   {"mark":{"type":"point","shape":"M-0.826,0L0,0L0,0.39","size":11664,"filled":false,"color":"#EE4B66","strokeWidth":1.5,"opacity":1},"encoding":{"x":{"field":"date","type":"ordinal","title":null},"y":{"datum":82.3}}},
   {"mark":{"type":"point","shape":"M-2.826,-0.25L-0.826,-0.25L-0.826,0.25L-2.826,0.25Z","size":11664,"filled":true,"color":"#EC4A64","opacity":1},"encoding":{"x":{"field":"date","type":"ordinal","title":null},"y":{"datum":82.3}}},
   {"mark":{"type":"text","color":"white","fontSize":29,"font":"Roboto","fontWeight":300,"baseline":"middle","dx":-98.6},"encoding":{"x":{"field":"date","type":"ordinal","title":null},"y":{"datum":82.3},"text":{"field":"lbl","type":"nominal"}}}
  ]}
 ]},
 {"width":996,"height":254,"data":{"values":[{}]},"layer":[
  {"mark":{"type":"text","color":"#8c8c8c","fontSize":30,"fontWeight":700,"align":"left","baseline":"middle"},"encoding":{"x":{"value":237},"y":{"value":61.7},"text":{"value":"数据来源："}}},
  {"mark":{"type":"text","color":"#8c8c8c","fontSize":30,"fontWeight":400,"align":"left","baseline":"middle"},"encoding":{"x":{"value":390},"y":{"value":61.7},"text":{"value":"国家卫健委、湖北省卫健委"}}},
  {"mark":{"type":"text","color":"#8c8c8c","fontSize":30,"fontWeight":700,"align":"left","baseline":"middle"},"encoding":{"x":{"value":404},"y":{"value":110},"text":{"value":"制图："}}},
  {"mark":{"type":"text","color":"#8c8c8c","fontSize":30,"fontWeight":400,"align":"left","baseline":"middle"},"encoding":{"x":{"value":490},"y":{"value":110},"text":{"value":"王基炜"}}},
  {"mark":{"type":"rect","color":"#0BCAD9","cornerRadiusTopLeft":14,"cornerRadiusTopRight":14},"encoding":{"x":{"value":391},"x2":{"value":590},"y":{"value":192},"y2":{"value":234}}},
  {"mark":{"type":"rect","color":"#0BCAD9"},"encoding":{"x":{"value":0},"x2":{"value":996},"y":{"value":233},"y2":{"value":254}}},
  {"mark":{"type":"text","color":"white","fontSize":42,"fontWeight":900,"align":"center","baseline":"middle"},"encoding":{"x":{"value":489},"y":{"value":221},"text":{"value":"抗疫"}}}
 ]}
]
}
